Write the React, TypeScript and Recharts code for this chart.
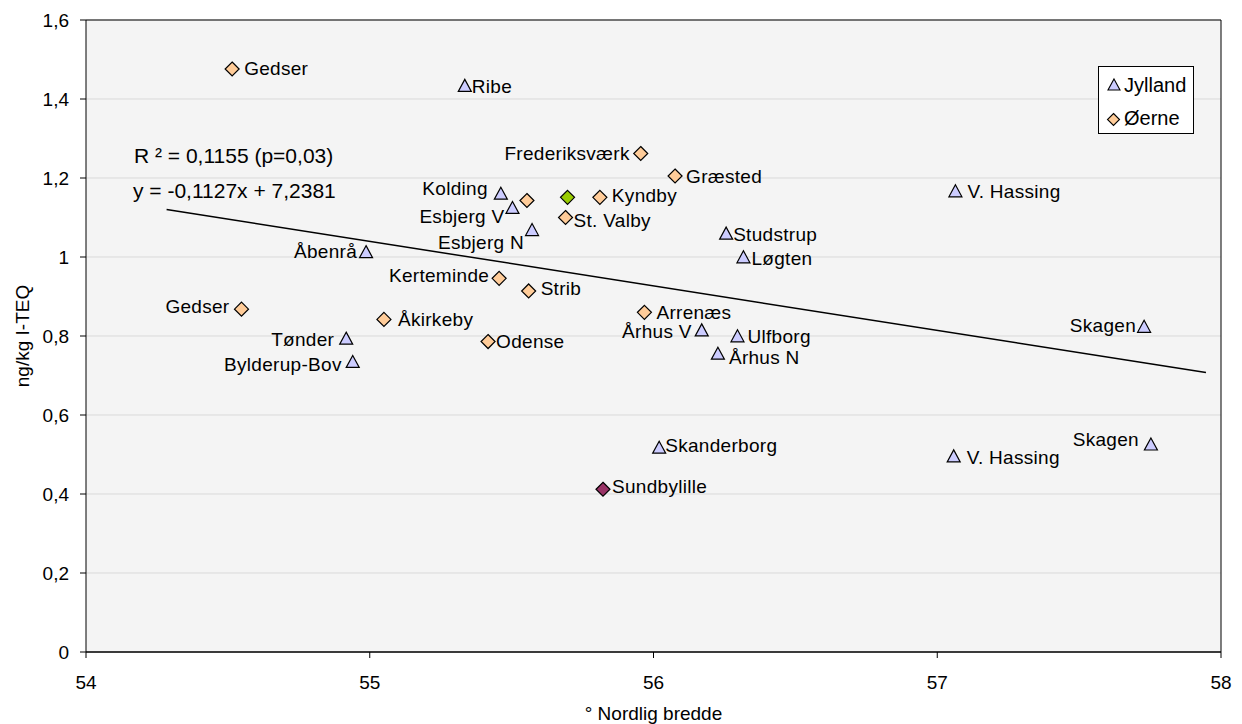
import React from 'react';
import {
  ScatterChart,
  Scatter,
  XAxis,
  YAxis,
  CartesianGrid,
  ReferenceLine,
  Legend,
  Customized,
} from 'recharts';

const FONT = '"Liberation Sans", Arial, Helvetica, sans-serif';

// ---- Jylland (triangles) ----
const jyllandNames = ['Ribe', 'Kolding', 'Esbjerg V', 'Esbjerg N', 'Åbenrå', 'Tønder', 'Bylderup-Bov', 'Studstrup', 'Løgten', 'Århus V', 'Ulfborg', 'Århus N', 'V. Hassing', 'Skagen', 'Skanderborg', 'V. Hassing', 'Skagen'];
const jyllandLat = [55.335, 55.462, 55.503, 55.572, 54.987, 54.917, 54.94, 56.256, 56.317, 56.17, 56.296, 56.227, 57.064, 57.729, 56.02, 57.058, 57.753];
const jyllandValue = [1.432, 1.159, 1.123, 1.067, 1.011, 0.792, 0.733, 1.058, 0.998, 0.813, 0.798, 0.754, 1.165, 0.822, 0.516, 0.494, 0.524];
const jyllandLabelSide = ['R', 'L', 'L', 'L', 'L', 'L', 'L', 'R', 'R', 'L', 'R', 'R', 'R', 'L', 'R', 'R', 'L'];
const jyllandLabelGap = [7, 13, 8, 8, 9, 12, 11, 7, 8, 10, 10, 11, 12, 8, 6, 13, 12];
const jyllandLabelDy = [0, -6, 8, 12, -1, 0, 2, 0, 1, 1, 0, 3, 0, -2, -3, 1, -6];

// ---- Øerne (diamonds) ----
const oerneNames = ['Gedser', 'Frederiksværk', 'Græsted', '', 'Kyndby', 'St. Valby', 'Kerteminde', 'Strib', 'Arrenæs', 'Gedser', 'Åkirkeby', 'Odense'];
const oerneLat = [54.515, 55.955, 56.076, 55.554, 55.811, 55.69, 55.456, 55.56, 55.968, 54.548, 55.05, 55.417];
const oerneValue = [1.476, 1.262, 1.205, 1.143, 1.151, 1.1, 0.946, 0.914, 0.86, 0.868, 0.842, 0.786];
const oerneLabelSide = ['R', 'L', 'R', 'R', 'R', 'R', 'L', 'R', 'R', 'L', 'R', 'R'];
const oerneLabelGap = [12, 11, 11, 0, 12, 8, 10, 12, 12, 12, 14, 8];
const oerneLabelDy = [0, 0, 0, 0, -2, 3, -3, -2, 0, -3, 0, 0];

// ---- Highlighted points ----
const greenNames = [''];
const greenLat = [55.697];
const greenValue = [1.151];

const purpleNames = ['Sundbylille'];
const purpleLat = [55.822];
const purpleValue = [0.412];
const purpleLabelSide = ['R'];
const purpleLabelGap = [9];
const purpleLabelDy = [-3];

// ---- Trend line ----
const trendSlope = -0.1127;
const trendIntercept = 7.2381;
const trendLatRange = [54.284, 57.947];

// ---- Axes ----
const xTicks = [54, 55, 56, 57, 58];
const yTicks = [0, 0.2, 0.4, 0.6, 0.8, 1, 1.2, 1.4, 1.6];

const build = (names: string[], lat: number[], val: number[], side?: string[], gap?: number[], dy?: number[]) =>
  names.map((n, i) => ({
    name: n,
    lat: lat[i],
    value: val[i],
    side: side ? side[i] : 'R',
    gap: gap ? gap[i] : 0,
    dy: dy ? dy[i] : 0,
  }));

const jyllandData = build(jyllandNames, jyllandLat, jyllandValue, jyllandLabelSide, jyllandLabelGap, jyllandLabelDy);
const oerneData = build(oerneNames, oerneLat, oerneValue, oerneLabelSide, oerneLabelGap, oerneLabelDy);
const greenData = build(greenNames, greenLat, greenValue);
const purpleData = build(purpleNames, purpleLat, purpleValue, purpleLabelSide, purpleLabelGap, purpleLabelDy);

const TRI_FILL = '#ccccff';
const DIA_FILL = '#ffcc99';
const GREEN_FILL = '#99cc00';
const PURPLE_FILL = '#993366';

const PointLabel = ({ cx, cy, p }: any) => {
  if (!p || !p.name) return null;
  const right = p.side === 'R';
  return (
    <text
      x={right ? cx + p.gap : cx - p.gap}
      y={cy + p.dy}
      textAnchor={right ? 'start' : 'end'}
      dominantBaseline="central"
      fontFamily={FONT}
      fontSize={19}
      letterSpacing={0.3}
      fill="#000"
    >
      {p.name}
    </text>
  );
};

const triangleShape = (props: any) => {
  const { cx, cy, payload } = props;
  if (cx == null || cy == null) return <g />;
  const pts = `${cx},${cy - 7} ${cx + 6.5},${cy + 5} ${cx - 6.5},${cy + 5}`;
  return (
    <g>
      <polygon points={pts} fill={TRI_FILL} stroke="#000" strokeWidth={1.2} strokeLinejoin="miter" />
      <PointLabel cx={cx} cy={cy} p={payload} />
    </g>
  );
};

const makeDiamond = (fill: string) => (props: any) => {
  const { cx, cy, payload } = props;
  if (cx == null || cy == null) return <g />;
  const pts = `${cx},${cy - 7} ${cx + 7},${cy} ${cx},${cy + 7} ${cx - 7},${cy}`;
  return (
    <g>
      <polygon points={pts} fill={fill} stroke="#000" strokeWidth={1.2} />
      <PointLabel cx={cx} cy={cy} p={payload} />
    </g>
  );
};

const yFmt = (v: number) => (v === 0 ? '0' : String(+v.toFixed(1)).replace('.', ','));

const renderLegend = () => (
  <div
    style={{
      width: 96,
      height: 68,
      border: '1px solid #000',
      background: '#fff',
      boxSizing: 'border-box',
    }}
  >
    <svg width={94} height={66} style={{ display: 'block' }}>
      <polygon points="15,12 21,23 9,23" fill={TRI_FILL} stroke="#000" strokeWidth={1.1} />
      <text x={25} y={18} dominantBaseline="central" fontFamily={FONT} fontSize={20} fill="#000">
        Jylland
      </text>
      <polygon points="14.5,46.5 20.5,52.5 14.5,58.5 8.5,52.5" fill={DIA_FILL} stroke="#000" strokeWidth={1.1} />
      <text x={25} y={51} dominantBaseline="central" fontFamily={FONT} fontSize={20} fill="#000">
        Øerne
      </text>
    </svg>
  </div>
);

const RegressionText = () => (
  <g fontFamily={FONT} fontSize={21} fill="#000">
    <text x={134} y={155} dominantBaseline="central">R ² = 0,1155 (p=0,03)</text>
    <text x={133} y={190} dominantBaseline="central">y = -0,1127x + 7,2381</text>
  </g>
);

export default function App() {
  const tickStyle = { fontFamily: FONT, fontSize: 19, fill: '#000' };
  return (
    <div style={{ position: 'absolute', left: 0, top: 0, width: 1242, height: 724, background: '#fff' }}>
      <ScatterChart width={1242} height={724} margin={{ top: 20, right: 21, bottom: 0, left: 0 }}>
        <CartesianGrid horizontal vertical={false} stroke="#d9d9d9" fill="#f4f4f4" fillOpacity={1} />
        <XAxis
          type="number"
          dataKey="lat"
          domain={[54, 58]}
          ticks={xTicks}
          height={72}
          tickSize={6}
          tickMargin={18}
          tick={tickStyle}
          axisLine={{ stroke: '#000', strokeWidth: 1.5 }}
          tickLine={{ stroke: '#000' }}
          allowDataOverflow
          label={{
            content: (props: any) => {
              const vb = props.viewBox || {};
              const cx = (vb.x || 0) + (vb.width || 0) / 2;
              return (
                <text x={cx} y={713} textAnchor="middle" dominantBaseline="central" fontFamily={FONT} fontSize={19} fill="#000">
                  ° Nordlig bredde
                </text>
              );
            },
          }}
        />
        <YAxis
          type="number"
          dataKey="value"
          domain={[0, 1.6]}
          ticks={yTicks}
          width={86}
          tickSize={6}
          tickMargin={11}
          tick={tickStyle}
          tickFormatter={yFmt}
          axisLine={{ stroke: '#000' }}
          tickLine={{ stroke: '#000' }}
          allowDataOverflow
          label={{
            content: (props: any) => {
              const vb = props.viewBox || {};
              const cy = (vb.y || 0) + (vb.height || 0) / 2;
              return (
                <text
                  x={22}
                  y={cy}
                  transform={`rotate(-90 22 ${cy})`}
                  textAnchor="middle"
                  dominantBaseline="central"
                  fontFamily={FONT}
                  fontSize={19}
                  fill="#000"
                >
                  ng/kg I-TEQ
                </text>
              );
            },
          }}
        />
        <ReferenceLine y={1.6} stroke="#000" strokeWidth={1} />
        <ReferenceLine x={58} stroke="#000" strokeWidth={1} />
        <ReferenceLine
          segment={[
            { x: trendLatRange[0], y: trendSlope * trendLatRange[0] + trendIntercept },
            { x: trendLatRange[1], y: trendSlope * trendLatRange[1] + trendIntercept },
          ]}
          stroke="#000"
          strokeWidth={1.5}
        />
        <Scatter name="Jylland" data={jyllandData} shape={triangleShape} isAnimationActive={false} />
        <Scatter name="Øerne" data={oerneData} shape={makeDiamond(DIA_FILL)} isAnimationActive={false} />
        <Scatter name="Green" data={greenData} shape={makeDiamond(GREEN_FILL)} isAnimationActive={false} legendType="none" />
        <Scatter name="Sundbylille" data={purpleData} shape={makeDiamond(PURPLE_FILL)} isAnimationActive={false} legendType="none" />
        <Customized component={RegressionText} />
        <Legend
          layout="horizontal"
          verticalAlign="middle"
          align="center"
          content={renderLegend}
          wrapperStyle={{ position: 'absolute', left: 1098, top: 66, width: 96, height: 68 }}
        />
      </ScatterChart>
    </div>
  );
}
